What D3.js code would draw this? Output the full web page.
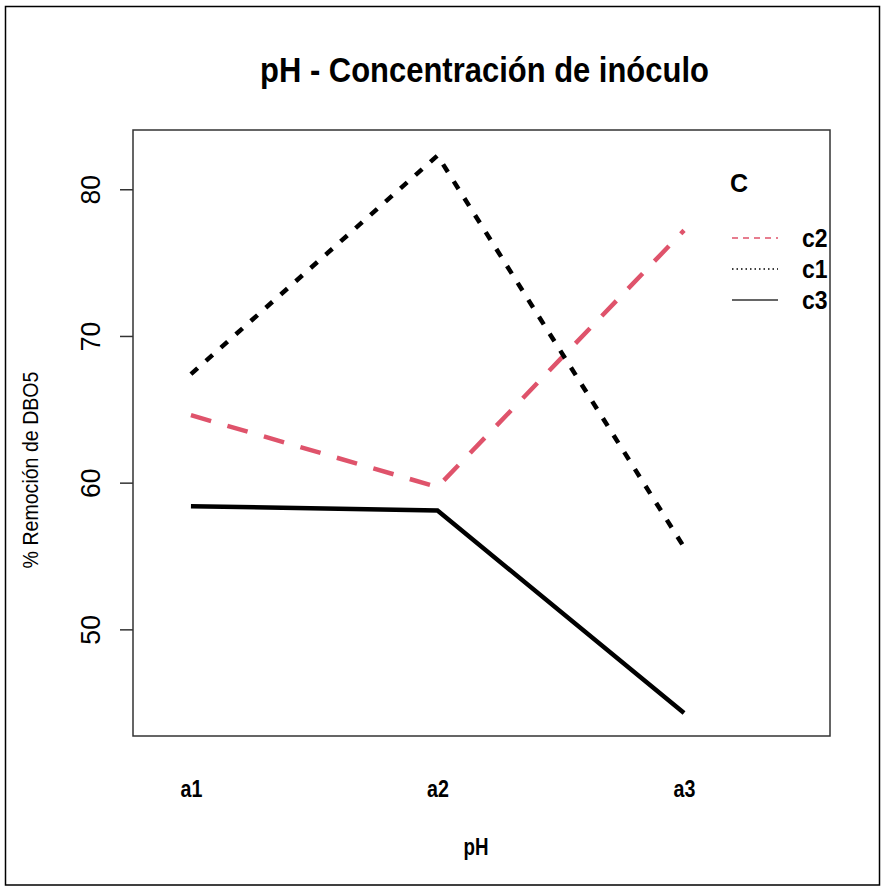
<!DOCTYPE html>
<html>
<head>
<meta charset="utf-8">
<script src="https://cdn.jsdelivr.net/npm/d3@7"></script>
<style>
  html, body { margin: 0; padding: 0; background: #fff; }
  svg { display: block; }
</style>
</head>
<body>
<div id="chart"></div>
<script>
// ---- data ----
const categories = ["a1", "a2", "a3"];
const seriesNames = ["c2", "c1", "c3"];
const c1 = [67.4, 82.3, 55.6];
const c2 = [64.6, 59.7, 77.2];
const c3 = [58.4, 58.1, 44.3];
const yTicks = [50, 60, 70, 80];
const titleText = "pH - Concentración de inóculo";
const xLabel = "pH";
const yLabel = "% Remoción de DBO5";
const legendTitle = "C";

// ---- layout ----
const W = 881, H = 886;
const box = { left: 133, right: 830, top: 130, bottom: 736 };
const sans = "'Liberation Sans', Arial, sans-serif";

const series = [
  { name: "c2", values: c2, color: "#DF536B", dash: "21,17", legendDash: "6,5" },
  { name: "c1", values: c1, color: "#000000", dash: "9,11", legendDash: "1.5,3" },
  { name: "c3", values: c3, color: "#000000", dash: null, legendDash: null }
];

const svg = d3.select("#chart").append("svg")
  .attr("width", W).attr("height", H);

svg.append("rect").attr("x", 0).attr("y", 0).attr("width", W).attr("height", H).attr("fill", "#fff");
// outer frame
svg.append("rect").attr("x", 5.5).attr("y", 6.5).attr("width", 874).attr("height", 878.5)
  .attr("fill", "none").attr("stroke", "#000").attr("stroke-width", 1.5);

const x = d3.scaleLinear().domain([0.765, 3.592]).range([box.left, box.right]);
const y = d3.scaleLinear().domain([42.73, 84.04]).range([box.bottom, box.top]);

// condensed text helper: places text at (tx,ty), optional rotation, horizontal squeeze
function ctext(g, str, tx, ty, opts) {
  const o = Object.assign({ rot: 0, sx: 1, size: 24, weight: "normal", anchor: "middle" }, opts);
  return g.append("text")
    .attr("transform", `translate(${tx},${ty}) rotate(${o.rot}) scale(${o.sx},1)`)
    .attr("text-anchor", o.anchor)
    .attr("font-family", sans).attr("font-weight", o.weight).attr("font-size", o.size)
    .attr("fill", "#000")
    .text(str);
}

// plot box
svg.append("rect")
  .attr("x", box.left).attr("y", box.top)
  .attr("width", box.right - box.left).attr("height", box.bottom - box.top)
  .attr("fill", "none").attr("stroke", "#333").attr("stroke-width", 1.5);

// y axis (ticks via d3 axis, labels rotated)
const yAxis = d3.axisLeft(y).tickValues(yTicks).tickSize(13).tickFormat(d3.format("d"));
const gy = svg.append("g").attr("transform", `translate(${box.left},0)`).call(yAxis);
gy.select(".domain").remove();
gy.selectAll(".tick line").attr("stroke", "#333").attr("stroke-width", 1.5);
gy.selectAll(".tick text")
  .attr("x", 0).attr("y", 0).attr("dy", 0)
  .attr("transform", `translate(${100 - box.left},0) rotate(-90) scale(0.95,1)`)
  .attr("text-anchor", "middle")
  .attr("font-family", sans).attr("font-size", 28).attr("fill", "#000");

// x axis labels (no ticks)
const xAxis = d3.axisBottom(x).tickValues([1, 2, 3]).tickSize(0)
  .tickFormat((d, i) => categories[i]);
const gx = svg.append("g").attr("transform", `translate(0,${box.bottom})`).call(xAxis);
gx.select(".domain").remove();
gx.selectAll(".tick text")
  .attr("y", 0).attr("dy", 0)
  .attr("transform", `translate(0,61) scale(0.82,1)`)
  .attr("font-family", sans).attr("font-weight", "bold").attr("font-size", 24).attr("fill", "#000");

// lines
const line = d3.line().x((d, i) => x(i + 1)).y(d => y(d));
series.forEach(s => {
  const p = svg.append("path").datum(s.values)
    .attr("d", line)
    .attr("fill", "none")
    .attr("stroke", s.color)
    .attr("stroke-width", 4.5)
    .attr("stroke-linejoin", "miter");
  if (s.dash) p.attr("stroke-dasharray", s.dash);
});

// title
ctext(svg, titleText, (box.left + box.right) / 2 + 3, 82, { size: 36, weight: "bold", sx: 0.86 });

// axis labels
ctext(svg, xLabel, 476, 855, { size: 24, weight: "bold", sx: 0.78 });
ctext(svg, yLabel, 38, 470, { size: 22, rot: -90, sx: 0.89 });

// legend
const lg = svg.append("g");
ctext(lg, legendTitle, 730, 192, { size: 25, weight: "bold", anchor: "start" });
const legY = d3.scalePoint().domain(seriesNames).range([238, 300]);
series.forEach(s => {
  const ly = legY(s.name);
  const l = lg.append("line")
    .attr("x1", 732).attr("x2", 778).attr("y1", ly).attr("y2", ly)
    .attr("stroke", s.name === "c3" ? "#333" : s.color).attr("stroke-width", 1.5);
  if (s.legendDash) l.attr("stroke-dasharray", s.legendDash);
  ctext(lg, s.name, 802, ly + 9, { size: 25, weight: "bold", anchor: "start", sx: 0.92 });
});
</script>
</body>
</html>
